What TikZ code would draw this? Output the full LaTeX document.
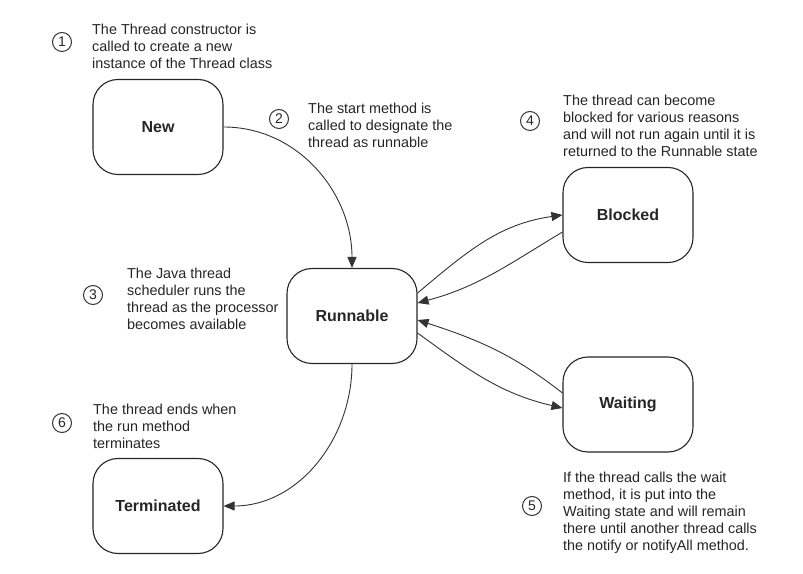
\documentclass[tikz,border=0pt]{standalone}
\usepackage{fontspec}
\setmainfont{Liberation Sans}
\usetikzlibrary{arrows.meta}
\begin{document}
\begin{tikzpicture}[x=1pt,y=1pt,
 state/.style={draw=black!85, line width=1.1pt, rounded corners=25pt, minimum width=130pt, minimum height=95pt, font=\fontsize{16}{19}\selectfont\bfseries, text=black!85},
 note/.style={anchor=base west, align=left, inner sep=0pt, font=\fontsize{14.4}{17}\selectfont, text=black!85},
 num/.style={draw=black!80, circle, line width=1pt, minimum size=19pt, inner sep=0pt, font=\fontsize{14}{14}\selectfont, text=black!85},
 conn/.style={draw=black!80, line width=0.9pt, -{Triangle[length=11pt,width=9pt]}}
]
\useasboundingbox (0,0) rectangle (803,573);
\fill[white] (0,0) rectangle (803,573);

\node[state] (new)  at (158,446)   {New};
\node[state] (run)  at (352,257)   {Runnable};
\node[state] (blk)  at (628,358)   {Blocked};
\node[state] (wait) at (628,168.5) {Waiting};
\node[state] (term) at (158,67)    {Terminated};

\node[num] (n1) at (62,531) {1};
\node[note] (t1) at (92,504) {The Thread constructor is\\called to create a new\\instance of the Thread class};
\node[num] (n2) at (279,454) {2};
\node[note] (t2) at (308,425) {The start method is\\called to designate the\\thread as runnable};
\node[num] (n3) at (93,278) {3};
\node[note] (t3) at (127,243) {The Java thread\\scheduler runs the\\thread as the processor\\becomes available};
\node[num] (n4) at (530,452) {4};
\node[note] (t4) at (563,416) {The thread can become\\blocked for various reasons\\and will not run again until it is\\returned to the Runnable state};
\node[num] (n5) at (532,67) {5};
\node[note] (t5) at (563,23) {If the thread calls the wait\\method, it is put into the\\Waiting state and will remain\\there until another thread calls\\the notify or notifyAll method.};
\node[num] (n6) at (62,150) {6};
\node[note] (t6) at (93,124) {The thread ends when\\the run method\\terminates};

\draw[conn] (new.east) to[out=0,in=90] (run.north);
\draw[conn] (run.south) to[out=-90,in=0] (term.east);
\draw[conn] ([yshift=23pt]run.east) to[out=40,in=188] (blk.west);
\draw[conn] ([yshift=-17pt]blk.west) to[out=211,in=15] ([yshift=13pt]run.east);
\draw[conn] ([yshift=11.5pt]wait.west) to[out=142,in=-18] ([yshift=-4pt]run.east);
\draw[conn] ([yshift=-17pt]run.east) to[out=-36,in=167] ([yshift=-3.5pt]wait.west);
\end{tikzpicture}
\end{document}
